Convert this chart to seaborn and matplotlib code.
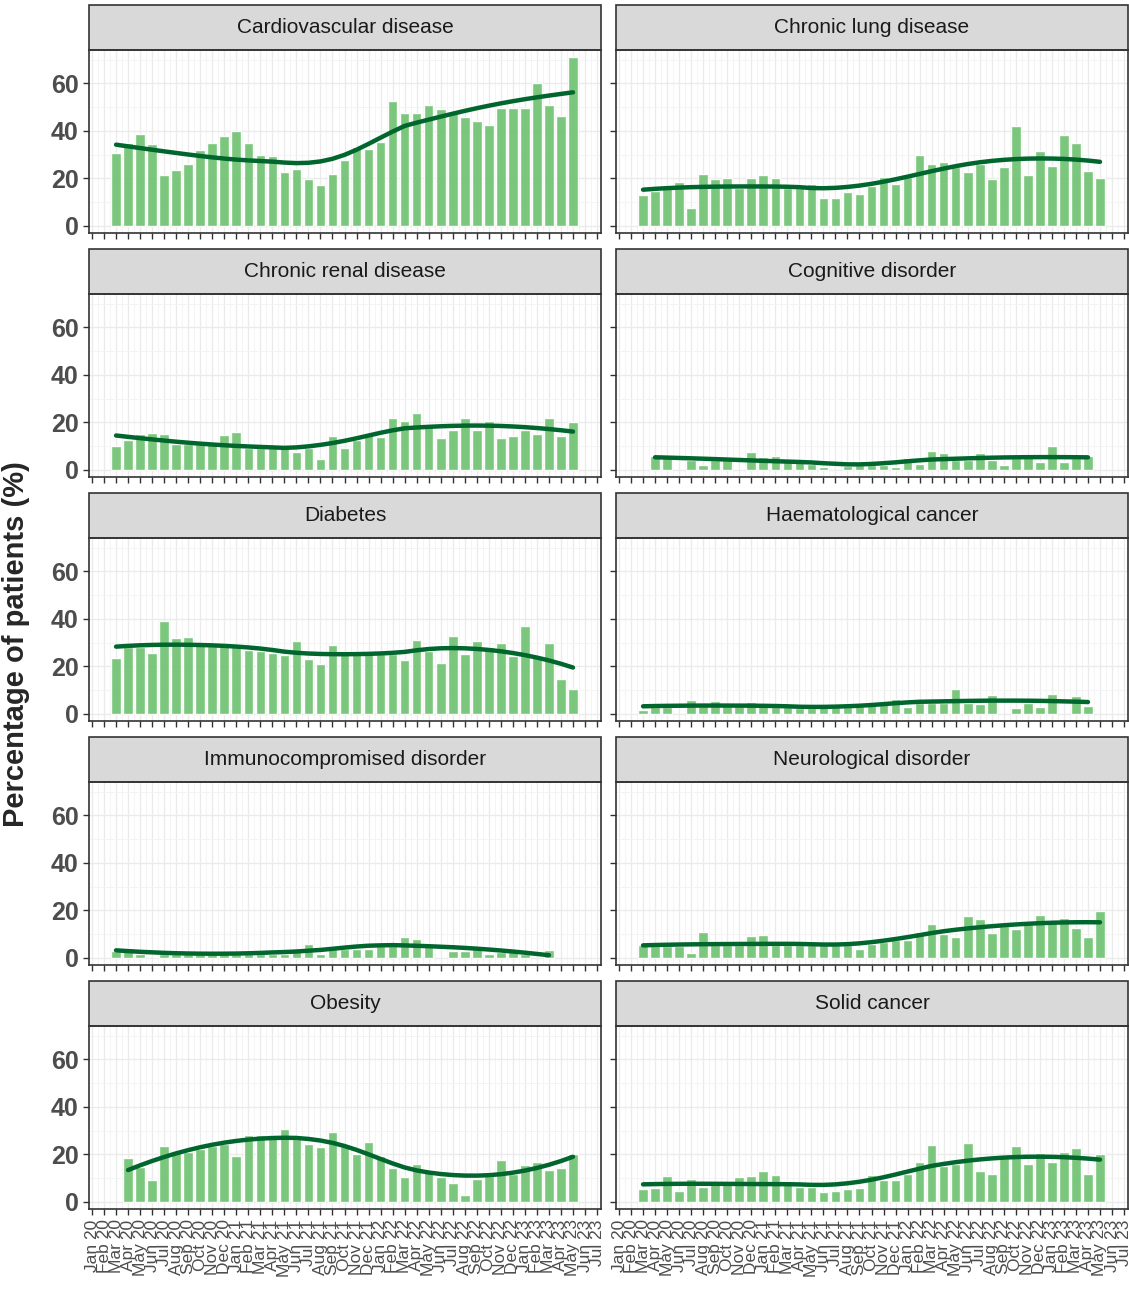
import numpy as np
import pandas as pd
import matplotlib
matplotlib.use("Agg")
import matplotlib.pyplot as plt
from matplotlib.patches import Rectangle
import seaborn as sns

nan = np.nan
month_names = ["Jan", "Feb", "Mar", "Apr", "May", "Jun",
               "Jul", "Aug", "Sep", "Oct", "Nov", "Dec"]
months = ["{} {}".format(month_names[i % 12], 20 + i // 12) for i in range(43)]

# (first month index, monthly percentages)
cardiovascular = (2, [30.7, 35, 38.7, 34.4, 21.4, 23.3, 26, 31.9, 35, 38, 40, 35,
                      30, 29.5, 22.7, 24, 19.7, 17.3, 21.9, 27.6, 33.3, 32.4, 35.4,
                      52.4, 47.3, 47.7, 50.7, 49, 47.3, 46, 44, 42.3, 49.7, 49.4,
                      49.4, 60, 50.7, 46.4, 71])
chronic_lung = (2, [13, 14.7, 16, 18.3, 7.6, 22, 19.7, 20, 16, 20, 21.6, 20, 16, 16,
                    17.6, 11.9, 11.9, 14.4, 13.3, 16.9, 20.7, 17.6, 20.4, 29.7, 26,
                    27, 24.7, 22.6, 26, 19.7, 24.7, 42, 21.6, 31.4, 25.3, 38.3, 34.7,
                    23, 20])
chronic_renal = (2, [10.1, 12.6, 15, 15.7, 15.1, 11, 11, 10.7, 10.7, 14.6, 16, 9.4,
                     9.4, 9, 9, 7.6, 9, 4.4, 14.3, 9, 12.6, 14.6, 14, 22, 20.4, 23.9,
                     19, 13.3, 16.9, 22, 16.9, 20.7, 13.6, 14.4, 16.9, 15, 21.9, 14.3,
                     20])
cognitive = (3, [6, 5.5, nan, 4, 2, 4, 4, nan, 7.5, 5.5, 6, 4, 3.8, 2.5, 1, nan, 1.5,
                 2, 2, 2, 1.3, 5, 2.4, 8, 7, 4, 4, 7, 4, 2, 5, 5.3, 3.5, 10, 3.3, 5, 6])
diabetes = (2, [23.5, 28, 28, 25.5, 39, 32, 32.5, 30, 28.7, 28.7, 28.7, 26.8, 26.5,
                25.5, 24.9, 30.6, 23.2, 21, 29, 25.2, 25.2, 25.2, 25.2, 25.2, 22.7,
                31, 26.5, 21.3, 32.7, 25.2, 30.6, 28, 30, 24.5, 36.8, 24.5, 29.7,
                14.8, 10.6])
haematological = (2, [1.8, 2.9, 2.9, nan, 6, 3.2, 5.4, 4, 3.2, 4.9, 3.2, 2.9, 2.9,
                      2.4, 2.4, 2.9, 2.9, 2.9, 3.2, 4.6, 4, 6.2, 2.9, 4.6, 4.6, 4.6,
                      10.4, 4.6, 4, 8, nan, 2.6, 4.6, 2.9, 8.5, nan, 7.6, 3.2])
immunocompromised = (2, [2.8, 4.2, 1.8, nan, 1.8, 1.8, 1.8, 1.8, 1.8, 1.8, 1.8, 1.8,
                         1.8, 1.8, 1.8, 2.8, 6, 1.8, 3.9, 3.9, 3.9, 3.9, 5, 5, 8.6,
                         8, 5, nan, 2.8, 2.8, 3.6, 1.8, 2.3, 2.3, 1.8, nan, 3.3])
neurological = (2, [5.3, 5, 5, 5, 1.9, 11, 5.5, 5.5, 5.5, 9.4, 9.7, 5.5, 5.5, 5.5,
                    5.5, 5.5, 5.5, 5.5, 3.9, 6, 6.5, 7.4, 7.4, 10.8, 14.3, 10.1, 8.8,
                    17.5, 16.4, 10.6, 13.6, 12.2, 14.3, 18, 15, 16.7, 12.5, 8.6, 19.9])
obesity = (3, [18.3, 14.6, 9.4, 23.3, 21, 21, 22.2, 23.6, 24.3, 19.2, 28, 28, 28,
               30.5, 26.4, 24.3, 23.2, 29.4, 23.6, 20.1, 25.3, 19.2, 14.2, 10.4, 15.8,
               12.5, 10.4, 8, 2.8, 9.7, 11, 17.8, 11.8, 15.6, 16.9, 13.6, 14.4, 20.1])
solid_cancer = (2, [5.6, 5.8, 10.8, 4.4, 9.7, 6.2, 7.6, 7.6, 10.4, 10.8, 12.8, 11.4,
                    8.6, 6.2, 6.2, 4.2, 4.4, 5.3, 5.8, 11.4, 9, 9.4, 11.8, 16.9, 23.9,
                    15.3, 16, 24.6, 13, 11.8, 18.3, 23.3, 15.8, 20.6, 16.9, 21.1, 22.8,
                    11.7, 20.1])

panels = [("Cardiovascular disease", cardiovascular),
          ("Chronic lung disease", chronic_lung),
          ("Chronic renal disease", chronic_renal),
          ("Cognitive disorder", cognitive),
          ("Diabetes", diabetes),
          ("Haematological cancer", haematological),
          ("Immunocompromised disorder", immunocompromised),
          ("Neurological disorder", neurological),
          ("Obesity", obesity),
          ("Solid cancer", solid_cancer)]


def loess(x, y, span=0.75):
    n = len(x)
    q = int(np.ceil(span * n))
    fit = np.empty(n)
    for i, x0 in enumerate(x):
        d = np.abs(x - x0)
        h = np.sort(d)[q - 1]
        w = np.clip(1 - (d / h) ** 3, 0, None) ** 3
        X = np.vstack([np.ones(n), x - x0, (x - x0) ** 2]).T
        W = np.diag(w)
        beta = np.linalg.solve(X.T @ W @ X, X.T @ W @ y)
        fit[i] = beta[0]
    return fit


sns.set_theme(style="white")
plt.rcParams["font.family"] = ["Liberation Sans", "DejaVu Sans"]

W, H = 1129, 1289
fig = plt.figure(figsize=(W / 100, H / 100), dpi=100)
lefts = [89, 616]
pw = 512

bar_col = "#74c476"
line_col = "#00662e"

for k, (name, (start, vals)) in enumerate(panels):
    row, col = divmod(k, 2)
    top = 50 + 244 * row
    bottom = 233 + 244 * row
    ax = fig.add_axes([lefts[col] / W, 1 - bottom / H, pw / W, (bottom - top) / H])

    df = pd.DataFrame({"month": np.arange(start, start + len(vals)),
                       "pct": vals}).dropna()
    df["smooth"] = loess(df["month"].to_numpy(float), df["pct"].to_numpy(float))

    for m in range(43):
        ax.axvline(m, color="#ebebeb", lw=1.0, zorder=0)
        ax.axvline(m + 0.5, color="#f3f3f3", lw=0.6, zorder=0)
    for v in [0, 20, 40, 60]:
        ax.axhline(v, color="#ebebeb", lw=1.0, zorder=0)
    for v in [10, 30, 50, 70]:
        ax.axhline(v, color="#f3f3f3", lw=0.6, zorder=0)

    sns.barplot(data=df, x="month", y="pct", native_scale=True, width=0.8,
                color=bar_col, saturation=1, alpha=0.95, ax=ax, zorder=2)
    sns.lineplot(data=df, x="month", y="smooth", color=line_col, lw=3.2,
                 ax=ax, zorder=3)

    ax.set_xlim(-0.25, 42.33)
    ax.set_ylim(-3, 74)
    ax.set_xlabel("")
    ax.set_ylabel("")
    ax.set_xticks(range(43))
    ax.set_yticks([0, 20, 40, 60])
    for s in ax.spines.values():
        s.set_color("#333333")
        s.set_linewidth(1.2)
    ax.tick_params(axis="both", length=4, width=1, color="#333333", direction="out",
                   bottom=True, left=True)
    if row == 4:
        ax.set_xticklabels(months, rotation=90, fontsize=12.5, color="#4d4d4d")
    else:
        ax.set_xticklabels([])
    if col == 0:
        ax.set_yticklabels([0, 20, 40, 60], fontsize=18, fontweight="bold",
                           color="#4d4d4d")
    else:
        ax.set_yticklabels([])

    sh = 45 / (bottom - top)
    ax.add_patch(Rectangle((0, 1), 1, sh, transform=ax.transAxes, clip_on=False,
                           facecolor="#d9d9d9", edgecolor="#333333", lw=1.2))
    ax.text(0.5, 1 + sh / 2, name, transform=ax.transAxes, ha="center",
            va="center", fontsize=15, color="#1a1a1a")

fig.text(16 / W, 0.5, "Percentage of patients (%)", rotation=90, ha="center",
         va="center", fontsize=21, fontweight="bold")

fig.savefig("out.png", dpi=100)
